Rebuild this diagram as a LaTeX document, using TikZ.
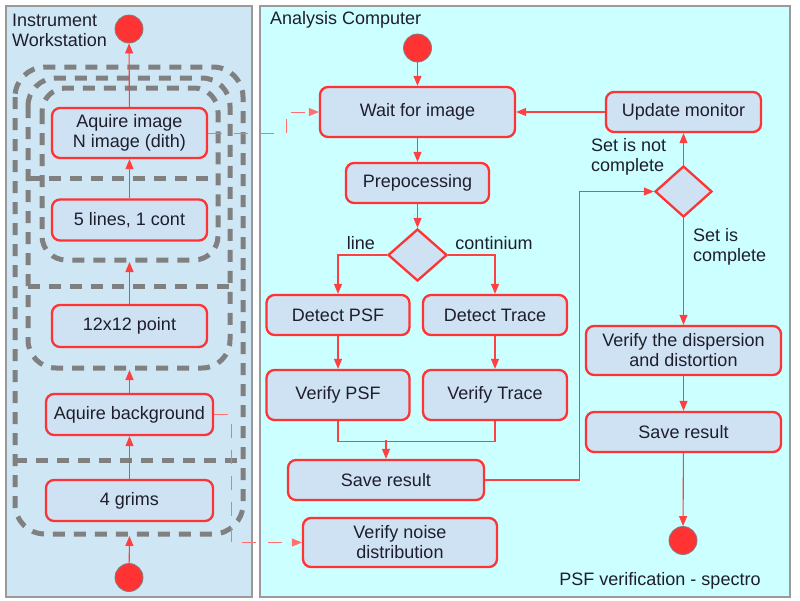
\documentclass[tikz,border=0pt]{standalone}
\usepackage{fontspec}
\setmainfont{Liberation Sans}
\usetikzlibrary{arrows.meta,shapes.geometric}
\definecolor{boxfill}{HTML}{CFE2F3}
\definecolor{boxline}{HTML}{FF3333}
\definecolor{lpanel}{HTML}{CFE6F4}
\definecolor{rpanel}{HTML}{CCFFFF}
\definecolor{panelline}{HTML}{9A9A9A}
\definecolor{loopgray}{HTML}{808080}
\definecolor{conn}{HTML}{FF4040}
\definecolor{dconncol}{HTML}{FF7070}
\definecolor{txt}{HTML}{1E1E2C}
\begin{document}
\begin{tikzpicture}[x=1pt,y=-1pt,
  every node/.style={font=\fontsize{18}{20}\selectfont, text=txt},
  box/.style={draw=boxline, line width=2.3pt, fill=boxfill, rounded corners=8pt, align=center, inner sep=0pt},
  dec/.style={diamond, draw=boxline, line width=2.3pt, fill=boxfill, inner sep=0pt},
  startend/.style={circle, fill=boxline, draw=gray, line width=0.8pt, minimum size=28pt, inner sep=0pt},
  panel/.style={draw=panelline, line width=1.5pt},
  loopline/.style={draw=loopgray, line width=5pt, dash pattern=on 12pt off 9pt},
  arr/.style={draw=conn, line width=1.1pt, -{Triangle[length=10pt,width=8pt]}},
  plain/.style={draw=conn, line width=1.1pt},
  dconn/.style={draw=dconncol, line width=1pt, dash pattern=on 14pt off 12pt, -{Triangle[length=10pt,width=8pt]}},
  lbl/.style={align=left, inner sep=0pt}
]
\useasboundingbox (0,0) rectangle (800,600);
\fill[white] (0,0) rectangle (800,600);
% panels
\draw[panel, fill=lpanel] (6,6) rectangle (252,597);
\draw[panel, fill=rpanel] (260,6) rectangle (790,597);
\node[lbl, anchor=west] (titleL) at (12,30) {Instrument\\Workstation};
\node[lbl, anchor=west] (titleR) at (270,20) {Analysis Computer};
\node[inner sep=0pt] (caption) at (660,581) {PSF verification - spectro};

% dashed loops
\draw[loopline, rounded corners=30pt] (15,67) rectangle (243,534);
\draw[loopline, rounded corners=28pt] (28,78) rectangle (230,368);
\draw[loopline, rounded corners=24pt] (42,88) rectangle (218,260);
\draw[loopline] (28,178) -- (218,178);
\draw[loopline] (28,286) -- (230,286);
\draw[loopline] (15,460) -- (243,460);
\coordinate (loop1b) at (129.5,536);
\coordinate (loop2b) at (129.5,370);
\coordinate (loop3b) at (129.5,262);

% left nodes
\node[startend] (endL) at (129,29) {};
\node[startend] (startL) at (129,577.5) {};
\node[box, minimum width=155pt, minimum height=50pt] (aqimg) at (129.5,133) {Aquire image\\N image (dith)};
\node[box, minimum width=155pt, minimum height=41pt] (lines5) at (129.5,220) {5 lines, 1 cont};
\node[box, minimum width=155pt, minimum height=42pt] (p12) at (129.5,326) {12x12 point};
\node[box, minimum width=167pt, minimum height=41pt] (aqbg) at (129.5,414.5) {Aquire background};
\node[box, minimum width=167pt, minimum height=41pt] (grims) at (129.5,500.5) {4 grims};

% right nodes
\node[startend] (startR) at (417.5,48) {};
\node[box, minimum width=195pt, minimum height=50pt] (wait) at (417.5,112) {Wait for image};
\node[box, minimum width=155pt, minimum height=40pt] (update) at (683.5,112) {Update monitor};
\node[box, minimum width=143pt, minimum height=40pt] (prep) at (417.5,183) {Prepocessing};
\node[dec, minimum width=59pt, minimum height=52pt] (d1) at (417.5,255) {};
\node[box, minimum width=143pt, minimum height=40pt] (dpsf) at (338,315) {Detect PSF};
\node[box, minimum width=144pt, minimum height=40pt] (dtrace) at (495,315) {Detect Trace};
\node[box, minimum width=143pt, minimum height=50pt] (vpsf) at (338,395) {Verify PSF};
\node[box, minimum width=144pt, minimum height=50pt] (vtrace) at (495,395) {Verify Trace};
\node[box, minimum width=196pt, minimum height=40pt] (save1) at (386,480) {Save result};
\node[box, minimum width=194pt, minimum height=49pt] (noise) at (400,542.5) {Verify noise\\distribution};
\node[dec, minimum width=57pt, minimum height=51pt] (d2) at (683.5,191.5) {};
\node[box, minimum width=195pt, minimum height=49pt] (disp) at (683.5,350.5) {Verify the dispersion\\and distortion};
\node[box, minimum width=195pt, minimum height=40pt] (save2) at (683.5,432) {Save result};
\node[startend] (endR) at (683,540.5) {};

% labels
\node[inner sep=0pt] (lline) at (361,243) {line};
\node[inner sep=0pt] (lcont) at (494,243) {continium};
\node[lbl, anchor=west] (lnot) at (591,156.5) {Set is not\\complete};
\node[lbl, anchor=west] (lcomp) at (693,247) {Set is\\complete};

% left connectors
\draw[arr] (startL) -- (loop1b);
\draw[arr] (grims) -- (aqbg);
\draw[arr] (aqbg) -- (loop2b);
\draw[arr] (p12) -- (loop3b);
\draw[arr] (lines5) -- (aqimg);
\draw[arr] (aqimg) -- (endL);
\draw[dconn] (aqimg.east) -- ++(78,0) |- (wait.west);
\draw[dconn] (aqbg.east) -- ++(17,0) |- (noise.west);

% right connectors
\draw[arr] (startR) -- (wait);
\draw[arr] (wait) -- (prep);
\draw[arr] (prep) -- (d1);
\draw[arr] (d1.west) -| (dpsf.north);
\draw[arr] (d1.east) -| (dtrace.north);
\draw[arr] (dpsf) -- (vpsf);
\draw[arr] (dtrace) -- (vtrace);
\draw[plain] (vpsf.south) -- ++(0,20) -| (vtrace.south);
\coordinate (join) at (386,440);
\draw[arr] (join) -- (save1.north);
\draw[arr] (save1.east) -- ++(94,0) |- (d2.west);
\draw[arr] (d2.north) -- (update.south);
\draw[arr] (update.west) -- (wait.east);
\draw[arr] (d2.south) -- (disp.north);
\draw[arr] (disp) -- (save2);
\draw[arr] (save2) -- (endR);
\end{tikzpicture}
\end{document}
